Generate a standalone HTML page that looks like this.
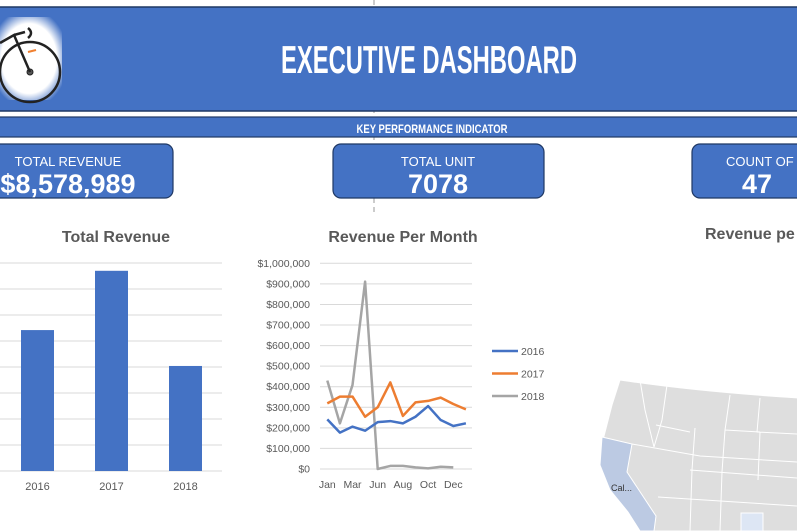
<!DOCTYPE html>
<html><head><meta charset="utf-8"><style>
html,body{margin:0;padding:0;background:#fff;width:797px;height:531px;overflow:hidden}
svg{display:block;font-family:"Liberation Sans",sans-serif}
</style></head><body>
<svg id="root" width="797" height="531" viewBox="0 0 797 531">
<defs>
<radialGradient id="glow" cx="50%" cy="50%" r="60%"><stop offset="70%" stop-color="#fff"/><stop offset="100%" stop-color="#4472C4"/></radialGradient>
</defs>
<line x1="374" y1="0" x2="374" y2="215" stroke="#999" stroke-dasharray="5,4"/>
<g>
<rect x="-2" y="7" width="801" height="104" fill="#4472C4" stroke="#1f3864" stroke-width="1.5"/>
<rect x="-4" y="17" width="66" height="83" rx="6" fill="url(#glow)"/>
<g stroke="#222" fill="none">
<circle cx="30" cy="72" r="30" stroke-width="2.5"/>
<circle cx="30" cy="72" r="3" fill="#555"/>
<path d="M0,43 L14,35 L30,72 M14,35 L25,32 M28,28 Q34,33 28,38" stroke-width="2.5"/>
<line x1="28" y1="52" x2="36" y2="50" stroke="#f08030" stroke-width="2"/>
</g>
<text x="429" y="73" fill="#fff" font-size="39" font-weight="bold" text-anchor="middle" textLength="296" lengthAdjust="spacingAndGlyphs">EXECUTIVE DASHBOARD</text>
</g>
<g>
<rect x="-2" y="117" width="801" height="20" fill="#4472C4" stroke="#1f3864" stroke-width="1.2"/>
<text x="432" y="133" fill="#fff" font-size="11.5" font-weight="bold" text-anchor="middle" textLength="151" lengthAdjust="spacingAndGlyphs">KEY PERFORMANCE INDICATOR</text>
</g>
<g>
<rect x="-12" y="144" width="185" height="54" rx="8" fill="#4472C4" stroke="#1f3864" stroke-width="1.2"/>
<text x="68" y="166" fill="#fff" font-size="13" text-anchor="middle">TOTAL REVENUE</text>
<text x="68" y="193" fill="#fff" font-size="27" font-weight="bold" text-anchor="middle">$8,578,989</text>
</g>
<g>
<rect x="333" y="144" width="211" height="54" rx="8" fill="#4472C4" stroke="#1f3864" stroke-width="1.2"/>
<text x="438" y="166" fill="#fff" font-size="13" text-anchor="middle">TOTAL UNIT</text>
<text x="438" y="193" fill="#fff" font-size="27" font-weight="bold" text-anchor="middle">7078</text>
</g>
<g>
<rect x="692" y="144" width="120" height="54" rx="8" fill="#4472C4" stroke="#1f3864" stroke-width="1.2"/>
<text x="726" y="166" fill="#fff" font-size="13">COUNT OF C</text>
<text x="742" y="193" fill="#fff" font-size="27" font-weight="bold">47</text>
</g>
<text x="116" y="242" fill="#595959" font-size="16" font-weight="bold" text-anchor="middle">Total Revenue</text>
<g id="bars"></g>
<text x="403" y="242" fill="#595959" font-size="16" font-weight="bold" text-anchor="middle">Revenue Per Month</text>
<g id="lines"></g>
<text x="705" y="239" fill="#595959" font-size="16" font-weight="bold">Revenue pe</text>
<g stroke="#fff" stroke-width="1">
<path d="M620,380 Q700,392 800,398 L800,531 L640,531 L628,512 L610,490 L600,465 L603,440 L612,405 Z" fill="#dedede"/>
<path d="M602,437 L632,444 L627,472 L656,516 L654,531 L640,531 L628,512 L610,490 L600,465 Z" fill="#bccae3"/>
<path d="M667,385 L662,420 L654,447 M632,444 L700,456 L797,462 M656,425 L690,432 M695,428 L692,470 L690,531 M730,395 L725,430 L722,472 L720,531 M640,380 L645,410 L654,447 M760,398 L757,432 L797,434 M725,430 L760,432 M760,432 L758,480 M690,470 L797,478 M658,497 L797,506" fill="none"/>
<rect x="741" y="513" width="22" height="18" fill="#dde6f4"/>
</g>
<text x="611" y="491" fill="#333" font-size="9">Cal...</text>
</svg>
<script>
const barYears = ["2016","2017","2018"];
const barValues = [2710000, 3850000, 2020000];
const months = ["Jan","Feb","Mar","Apr","May","Jun","Jul","Aug","Sep","Oct","Nov","Dec"];
const monthTickLabels = ["Jan","Mar","Jun","Aug","Oct","Dec"];
const yTickLabels = ["$0","$100,000","$200,000","$300,000","$400,000","$500,000","$600,000","$700,000","$800,000","$900,000","$1,000,000"];
const s2016 = [241000,177000,206000,186000,228000,233000,222000,254000,306000,238000,209000,222000];
const s2017 = [319000,352000,352000,254000,300000,421000,258000,324000,331000,347000,316000,290000];
const s2018 = [430000,222000,408000,911000,0,15000,15000,8000,3000,11000,8000];
const seriesNames = ["2016","2017","2018"];
const NS="http://www.w3.org/2000/svg";
function mk(tag,attrs,parent){const e=document.createElementNS(NS,tag);for(const k in attrs)e.setAttribute(k,attrs[k]);parent.appendChild(e);return e;}
const bg=document.getElementById('bars');
const barMax=4000000, bTop=263, bBot=471;
const by=v=>bBot-(v/barMax)*(bBot-bTop);
const bx=i=>21+i*74;
for(let k=0;k<=8;k++){
 const g=mk('line',{x1:0,x2:222,y1:by(k*500000),y2:by(k*500000),stroke:'#d9d9d9'},bg);
 
 
}
barValues.forEach((v,i)=>{
 const r=mk('rect',{x:bx(i),y:by(v),width:33,height:bBot-by(v),fill:'#4472C4'},bg);
 
 
 const t=mk('text',{x:bx(i)+16.5,y:490,'font-size':11,fill:'#595959','text-anchor':'middle'},bg);t.textContent=barYears[i];
 
 
});
const lg=document.getElementById('lines');
const lTop=263.3, lBot=469, lMax=1000000;
const ly=v=>lBot-(v/lMax)*(lBot-lTop);
const lx=i=>327.3+i*12.6;
yTickLabels.forEach((lab,k)=>{
 const y=ly(k*100000);
 const g=mk('line',{x1:320,x2:472,y1:y,y2:y,stroke:'#d9d9d9'},lg);
 
 
 const t=mk('text',{x:310,y:y+3.5,'font-size':10.5,fill:'#595959','text-anchor':'end'},lg);t.textContent=lab;
 
 
});
monthTickLabels.forEach((lab,k)=>{
 const t=mk('text',{x:lx(k*2),y:488,'font-size':10.5,fill:'#595959','text-anchor':'middle'},lg);t.textContent=lab;
 
 
});
const colors=['#4472C4','#ED7D31','#A5A5A5'];
[2,1,0].forEach(si=>{
 const s=[s2016,s2017,s2018][si];
 const p=mk('polyline',{points:s.map((v,i)=>lx(i)+','+ly(v)).join(' '),fill:'none',stroke:colors[si],'stroke-width':2.5,'stroke-linejoin':'round'},lg);
 
 
});
seriesNames.forEach((n,si)=>{
 const y=351+si*22.5;
 const l=mk('line',{x1:492,x2:518,y1:y,y2:y,stroke:colors[si],'stroke-width':2.5},lg);
 
 
 const t=mk('text',{x:521,y:y+4,'font-size':10.5,fill:'#595959'},lg);t.textContent=n;
 
 
});
</script>
</body></html>
